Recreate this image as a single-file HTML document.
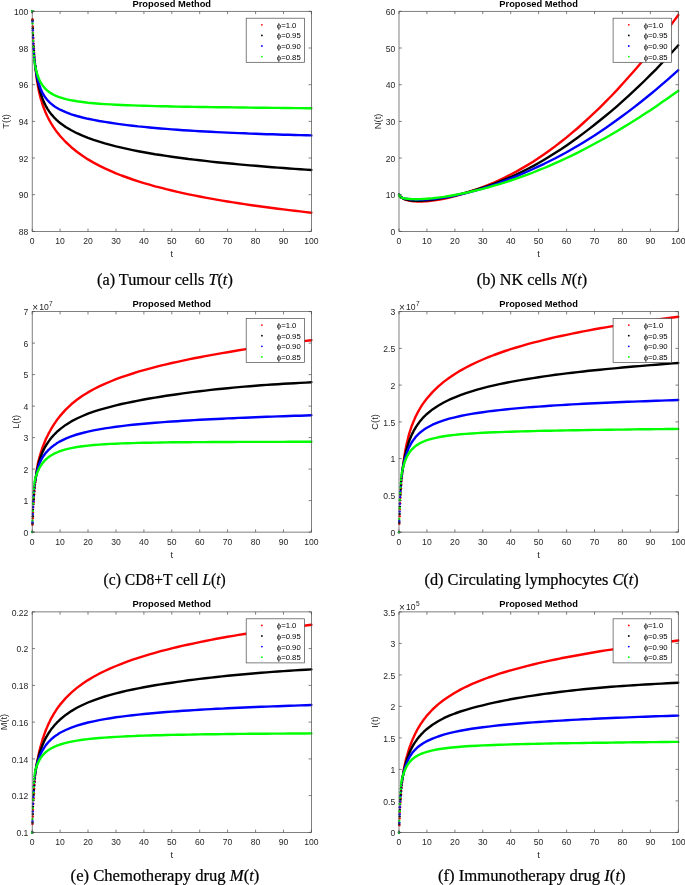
<!DOCTYPE html><html><head><meta charset="utf-8"><style>html,body{margin:0;padding:0;background:#fff;}svg{display:block;will-change:transform;font-family:"Liberation Sans",sans-serif;}</style></head><body><svg width="685" height="885" viewBox="0 0 685 885" font-family="Liberation Sans, sans-serif"><clipPath id="clipa"><rect x="30.7" y="9.8" width="282.2" height="223.1"/></clipPath><g clip-path="url(#clipa)"><g fill="#ff0000"><circle cx="32.2" cy="11.3" r="1.2"/><circle cx="32.5" cy="19.2" r="1.2"/><circle cx="32.8" cy="26.4" r="1.2"/><circle cx="33.0" cy="32.8" r="1.2"/><circle cx="33.3" cy="38.6" r="1.2"/><circle cx="33.6" cy="43.8" r="1.2"/><circle cx="33.9" cy="48.5" r="1.2"/><circle cx="34.2" cy="52.7" r="1.2"/><circle cx="34.4" cy="56.5" r="1.2"/><circle cx="34.7" cy="59.9" r="1.2"/><circle cx="35.0" cy="63.0" r="1.2"/><circle cx="35.3" cy="65.7" r="1.2"/></g><g fill="#000000"><circle cx="32.2" cy="11.3" r="1.2"/><circle cx="32.5" cy="20.4" r="1.2"/><circle cx="32.8" cy="28.3" r="1.2"/><circle cx="33.0" cy="35.1" r="1.2"/><circle cx="33.3" cy="41.1" r="1.2"/><circle cx="33.6" cy="46.3" r="1.2"/><circle cx="33.9" cy="50.8" r="1.2"/><circle cx="34.2" cy="54.7" r="1.2"/><circle cx="34.4" cy="58.2" r="1.2"/><circle cx="34.7" cy="61.1" r="1.2"/><circle cx="35.0" cy="63.7" r="1.2"/><circle cx="35.3" cy="66.0" r="1.2"/></g><g fill="#0000ff"><circle cx="32.2" cy="11.3" r="1.2"/><circle cx="32.5" cy="21.6" r="1.2"/><circle cx="32.8" cy="30.2" r="1.2"/><circle cx="33.0" cy="37.5" r="1.2"/><circle cx="33.3" cy="43.6" r="1.2"/><circle cx="33.6" cy="48.7" r="1.2"/><circle cx="33.9" cy="53.1" r="1.2"/><circle cx="34.2" cy="56.7" r="1.2"/><circle cx="34.4" cy="59.7" r="1.2"/><circle cx="34.7" cy="62.3" r="1.2"/><circle cx="35.0" cy="64.4" r="1.2"/><circle cx="35.3" cy="66.2" r="1.2"/></g><g fill="#00ff00"><circle cx="32.2" cy="11.3" r="1.2"/><circle cx="32.5" cy="23.4" r="1.2"/><circle cx="32.8" cy="33.0" r="1.2"/><circle cx="33.0" cy="40.7" r="1.2"/><circle cx="33.3" cy="46.9" r="1.2"/><circle cx="33.6" cy="51.9" r="1.2"/><circle cx="33.9" cy="55.8" r="1.2"/><circle cx="34.2" cy="59.0" r="1.2"/><circle cx="34.4" cy="61.5" r="1.2"/><circle cx="34.7" cy="63.5" r="1.2"/><circle cx="35.0" cy="65.2" r="1.2"/><circle cx="35.3" cy="66.5" r="1.2"/></g><path d="M35.4 67.0 L36.3 75.0 L37.1 81.3 L38.0 86.4 L38.8 90.7 L39.7 94.5 L40.5 97.8 L41.4 100.7 L42.2 103.5 L43.1 106.0 L43.9 108.3 L44.8 110.5 L45.6 112.6 L46.5 114.5 L47.3 116.3 L48.2 118.0 L49.0 119.7 L49.9 121.2 L50.7 122.7 L51.6 124.2 L52.5 125.6 L53.3 126.9 L54.2 128.1 L55.0 129.4 L55.9 130.6 L56.7 131.7 L57.6 132.8 L58.4 133.9 L59.3 134.9 L60.1 136.0 L65.7 142.0 L71.3 147.2 L76.9 151.7 L82.5 155.8 L88.0 159.4 L93.6 162.6 L99.2 165.6 L104.8 168.4 L110.4 170.9 L116.0 173.3 L121.5 175.5 L127.1 177.5 L132.7 179.5 L138.3 181.3 L143.9 183.1 L149.5 184.7 L155.0 186.3 L160.6 187.7 L166.2 189.2 L171.8 190.5 L177.4 191.8 L183.0 193.1 L188.6 194.3 L194.1 195.4 L199.7 196.5 L205.3 197.6 L210.9 198.6 L216.5 199.6 L222.1 200.6 L227.6 201.5 L233.2 202.4 L238.8 203.3 L244.4 204.1 L250.0 205.0 L255.6 205.8 L261.1 206.5 L266.7 207.3 L272.3 208.0 L277.9 208.7 L283.5 209.4 L289.1 210.1 L294.6 210.8 L300.2 211.4 L305.8 212.1 L311.4 212.7" fill="none" stroke="#ff0000" stroke-width="2.4" stroke-linejoin="round" stroke-linecap="round"/><path d="M35.4 67.0 L36.3 73.2 L37.1 78.4 L38.0 82.8 L38.8 86.6 L39.7 90.0 L40.5 92.9 L41.4 95.5 L42.2 97.9 L43.1 100.1 L43.9 102.1 L44.8 103.9 L45.6 105.6 L46.5 107.1 L47.3 108.6 L48.2 109.9 L49.0 111.2 L49.9 112.4 L50.7 113.5 L51.6 114.6 L52.5 115.6 L53.3 116.6 L54.2 117.5 L55.0 118.4 L55.9 119.2 L56.7 120.1 L57.6 120.8 L58.4 121.6 L59.3 122.3 L60.1 123.0 L65.7 127.0 L71.3 130.3 L76.9 133.2 L82.5 135.7 L88.0 137.9 L93.6 139.9 L99.2 141.7 L104.8 143.4 L110.4 144.9 L116.0 146.4 L121.5 147.7 L127.1 148.9 L132.7 150.1 L138.3 151.2 L143.9 152.2 L149.5 153.2 L155.0 154.2 L160.6 155.0 L166.2 155.9 L171.8 156.7 L177.4 157.5 L183.0 158.2 L188.6 159.0 L194.1 159.6 L199.7 160.3 L205.3 160.9 L210.9 161.6 L216.5 162.2 L222.1 162.7 L227.6 163.3 L233.2 163.8 L238.8 164.4 L244.4 164.9 L250.0 165.4 L255.6 165.8 L261.1 166.3 L266.7 166.8 L272.3 167.2 L277.9 167.6 L283.5 168.0 L289.1 168.5 L294.6 168.9 L300.2 169.2 L305.8 169.6 L311.4 170.0" fill="none" stroke="#000000" stroke-width="2.4" stroke-linejoin="round" stroke-linecap="round"/><path d="M35.4 67.0 L36.3 72.4 L37.1 76.8 L38.0 80.5 L38.8 83.5 L39.7 86.2 L40.5 88.5 L41.4 90.5 L42.2 92.3 L43.1 93.9 L43.9 95.3 L44.8 96.6 L45.6 97.8 L46.5 98.9 L47.3 100.0 L48.2 100.9 L49.0 101.8 L49.9 102.6 L50.7 103.4 L51.6 104.1 L52.5 104.8 L53.3 105.5 L54.2 106.1 L55.0 106.7 L55.9 107.3 L56.7 107.8 L57.6 108.3 L58.4 108.8 L59.3 109.3 L60.1 109.7 L65.7 112.2 L71.3 114.3 L76.9 116.0 L82.5 117.5 L88.0 118.8 L93.6 119.9 L99.2 121.0 L104.8 121.9 L110.4 122.8 L116.0 123.6 L121.5 124.4 L127.1 125.1 L132.7 125.7 L138.3 126.4 L143.9 126.9 L149.5 127.5 L155.0 128.0 L160.6 128.5 L166.2 128.9 L171.8 129.4 L177.4 129.8 L183.0 130.2 L188.6 130.5 L194.1 130.9 L199.7 131.2 L205.3 131.5 L210.9 131.8 L216.5 132.1 L222.1 132.4 L227.6 132.6 L233.2 132.9 L238.8 133.1 L244.4 133.3 L250.0 133.6 L255.6 133.8 L261.1 134.0 L266.7 134.2 L272.3 134.3 L277.9 134.5 L283.5 134.7 L289.1 134.8 L294.6 135.0 L300.2 135.1 L305.8 135.3 L311.4 135.4" fill="none" stroke="#0000ff" stroke-width="2.4" stroke-linejoin="round" stroke-linecap="round"/><path d="M35.4 67.0 L36.3 70.7 L37.1 73.7 L38.0 76.3 L38.8 78.5 L39.7 80.4 L40.5 82.1 L41.4 83.6 L42.2 84.9 L43.1 86.1 L43.9 87.1 L44.8 88.1 L45.6 89.0 L46.5 89.8 L47.3 90.6 L48.2 91.3 L49.0 91.9 L49.9 92.5 L50.7 93.1 L51.6 93.6 L52.5 94.1 L53.3 94.6 L54.2 95.0 L55.0 95.4 L55.9 95.8 L56.7 96.2 L57.6 96.5 L58.4 96.8 L59.3 97.1 L60.1 97.4 L65.7 99.1 L71.3 100.3 L76.9 101.3 L82.5 102.0 L88.0 102.7 L93.6 103.2 L99.2 103.7 L104.8 104.1 L110.4 104.4 L116.0 104.7 L121.5 105.0 L127.1 105.2 L132.7 105.4 L138.3 105.6 L143.9 105.8 L149.5 105.9 L155.0 106.1 L160.6 106.2 L166.2 106.3 L171.8 106.5 L177.4 106.6 L183.0 106.7 L188.6 106.8 L194.1 106.9 L199.7 107.0 L205.3 107.0 L210.9 107.1 L216.5 107.2 L222.1 107.3 L227.6 107.3 L233.2 107.4 L238.8 107.5 L244.4 107.5 L250.0 107.6 L255.6 107.7 L261.1 107.7 L266.7 107.8 L272.3 107.9 L277.9 107.9 L283.5 108.0 L289.1 108.0 L294.6 108.1 L300.2 108.1 L305.8 108.2 L311.4 108.2" fill="none" stroke="#00ff00" stroke-width="2.4" stroke-linejoin="round" stroke-linecap="round"/></g><rect x="32.2" y="11.3" width="279.2" height="220.1" fill="none" stroke="#4a4a4a" stroke-width="0.7"/><path d="M32.2 231.4v-2.8M32.2 11.3v2.8M60.1 231.4v-2.8M60.1 11.3v2.8M88.0 231.4v-2.8M88.0 11.3v2.8M116.0 231.4v-2.8M116.0 11.3v2.8M143.9 231.4v-2.8M143.9 11.3v2.8M171.8 231.4v-2.8M171.8 11.3v2.8M199.7 231.4v-2.8M199.7 11.3v2.8M227.6 231.4v-2.8M227.6 11.3v2.8M255.6 231.4v-2.8M255.6 11.3v2.8M283.5 231.4v-2.8M283.5 11.3v2.8M311.4 231.4v-2.8M311.4 11.3v2.8M32.2 231.4h2.8M311.4 231.4h-2.8M32.2 194.7h2.8M311.4 194.7h-2.8M32.2 158.0h2.8M311.4 158.0h-2.8M32.2 121.4h2.8M311.4 121.4h-2.8M32.2 84.7h2.8M311.4 84.7h-2.8M32.2 48.0h2.8M311.4 48.0h-2.8M32.2 11.3h2.8M311.4 11.3h-2.8" stroke="#4a4a4a" stroke-width="0.7" fill="none"/><g font-size="8.6" fill="#262626"><text x="32.2" y="244.3" text-anchor="middle">0</text><text x="60.1" y="244.3" text-anchor="middle">10</text><text x="88.0" y="244.3" text-anchor="middle">20</text><text x="116.0" y="244.3" text-anchor="middle">30</text><text x="143.9" y="244.3" text-anchor="middle">40</text><text x="171.8" y="244.3" text-anchor="middle">50</text><text x="199.7" y="244.3" text-anchor="middle">60</text><text x="227.6" y="244.3" text-anchor="middle">70</text><text x="255.6" y="244.3" text-anchor="middle">80</text><text x="283.5" y="244.3" text-anchor="middle">90</text><text x="311.4" y="244.3" text-anchor="middle">100</text><text x="28.4" y="235.1" text-anchor="end">88</text><text x="28.4" y="198.4" text-anchor="end">90</text><text x="28.4" y="161.7" text-anchor="end">92</text><text x="28.4" y="125.1" text-anchor="end">94</text><text x="28.4" y="88.4" text-anchor="end">96</text><text x="28.4" y="51.7" text-anchor="end">98</text><text x="28.4" y="15.0" text-anchor="end">100</text></g><text x="171.8" y="6.6" text-anchor="middle" font-weight="bold" font-size="9.3" fill="#000">Proposed Method</text><text x="171.8" y="256.8" text-anchor="middle" font-size="9.3" fill="#262626">t</text><text transform="translate(8.8 121.4) rotate(-90)" text-anchor="middle" font-size="9.3" fill="#262626">T(t)</text><rect x="246.2" y="18.2" width="58.3" height="44.1" fill="#fff" stroke="#4a4a4a" stroke-width="0.7"/><circle cx="261.9" cy="24.8" r="0.9" fill="#ff0000"/><text x="276.8" y="27.7" font-size="7.74" fill="#000">ϕ=1.0</text><circle cx="261.9" cy="35.4" r="0.9" fill="#000000"/><text x="276.8" y="38.3" font-size="7.74" fill="#000">ϕ=0.95</text><circle cx="261.9" cy="46.0" r="0.9" fill="#0000ff"/><text x="276.8" y="48.9" font-size="7.74" fill="#000">ϕ=0.90</text><circle cx="261.9" cy="56.6" r="0.9" fill="#00ff00"/><text x="276.8" y="59.5" font-size="7.74" fill="#000">ϕ=0.85</text><clipPath id="clipb"><rect x="397.5" y="9.8" width="282.3" height="223.1"/></clipPath><g clip-path="url(#clipb)"><g fill="#ff0000"><circle cx="399.0" cy="194.8" r="1.2"/><circle cx="399.3" cy="195.2" r="1.2"/><circle cx="399.6" cy="195.6" r="1.2"/><circle cx="399.8" cy="196.0" r="1.2"/><circle cx="400.1" cy="196.3" r="1.2"/><circle cx="400.4" cy="196.6" r="1.2"/><circle cx="400.7" cy="196.9" r="1.2"/><circle cx="401.0" cy="197.1" r="1.2"/><circle cx="401.2" cy="197.3" r="1.2"/><circle cx="401.5" cy="197.5" r="1.2"/><circle cx="401.8" cy="197.7" r="1.2"/></g><g fill="#000000"><circle cx="399.0" cy="194.8" r="1.2"/><circle cx="399.3" cy="195.3" r="1.2"/><circle cx="399.6" cy="195.7" r="1.2"/><circle cx="399.8" cy="196.1" r="1.2"/><circle cx="400.1" cy="196.4" r="1.2"/><circle cx="400.4" cy="196.7" r="1.2"/><circle cx="400.7" cy="197.0" r="1.2"/><circle cx="401.0" cy="197.2" r="1.2"/><circle cx="401.2" cy="197.4" r="1.2"/><circle cx="401.5" cy="197.6" r="1.2"/><circle cx="401.8" cy="197.7" r="1.2"/></g><g fill="#0000ff"><circle cx="399.0" cy="194.8" r="1.2"/><circle cx="399.3" cy="195.4" r="1.2"/><circle cx="399.6" cy="195.8" r="1.2"/><circle cx="399.8" cy="196.2" r="1.2"/><circle cx="400.1" cy="196.6" r="1.2"/><circle cx="400.4" cy="196.8" r="1.2"/><circle cx="400.7" cy="197.1" r="1.2"/><circle cx="401.0" cy="197.3" r="1.2"/><circle cx="401.2" cy="197.4" r="1.2"/><circle cx="401.5" cy="197.6" r="1.2"/><circle cx="401.8" cy="197.7" r="1.2"/></g><g fill="#00ff00"><circle cx="399.0" cy="194.8" r="1.2"/><circle cx="399.3" cy="195.4" r="1.2"/><circle cx="399.6" cy="196.0" r="1.2"/><circle cx="399.8" cy="196.4" r="1.2"/><circle cx="400.1" cy="196.7" r="1.2"/><circle cx="400.4" cy="197.0" r="1.2"/><circle cx="400.7" cy="197.2" r="1.2"/><circle cx="401.0" cy="197.4" r="1.2"/><circle cx="401.2" cy="197.5" r="1.2"/><circle cx="401.5" cy="197.6" r="1.2"/><circle cx="401.8" cy="197.7" r="1.2"/></g><path d="M401.8 197.7 L402.7 198.3 L403.5 198.7 L404.4 199.2 L405.3 199.5 L406.1 199.8 L407.0 200.1 L407.9 200.3 L408.7 200.5 L409.6 200.7 L410.5 200.8 L411.3 201.0 L412.2 201.1 L413.1 201.2 L413.9 201.3 L414.8 201.4 L415.7 201.4 L416.5 201.5 L417.4 201.5 L418.3 201.5 L419.1 201.5 L420.0 201.5 L420.9 201.5 L421.7 201.5 L422.6 201.5 L423.5 201.4 L424.3 201.4 L425.2 201.3 L426.1 201.3 L426.9 201.2 L432.5 200.6 L438.1 199.8 L443.7 198.7 L449.3 197.5 L454.9 196.1 L460.4 194.5 L466.0 192.8 L471.6 191.0 L477.2 189.1 L482.8 187.0 L488.4 184.8 L494.0 182.5 L499.5 180.0 L505.1 177.4 L510.7 174.5 L516.3 171.6 L521.9 168.4 L527.5 165.1 L533.1 161.7 L538.6 158.0 L544.2 154.2 L549.8 150.3 L555.4 146.1 L561.0 141.8 L566.6 137.4 L572.2 132.7 L577.8 128.0 L583.3 123.0 L588.9 117.9 L594.5 112.7 L600.1 107.3 L605.7 101.7 L611.3 96.0 L616.9 90.1 L622.4 84.0 L628.0 77.8 L633.6 71.5 L639.2 65.0 L644.8 58.3 L650.4 51.5 L656.0 44.5 L661.5 37.3 L667.1 30.0 L672.7 22.6 L678.3 15.0" fill="none" stroke="#ff0000" stroke-width="2.4" stroke-linejoin="round" stroke-linecap="round"/><path d="M401.8 197.7 L402.7 198.2 L403.5 198.6 L404.4 199.0 L405.3 199.3 L406.1 199.5 L407.0 199.7 L407.9 199.9 L408.7 200.1 L409.6 200.2 L410.5 200.4 L411.3 200.5 L412.2 200.5 L413.1 200.6 L413.9 200.7 L414.8 200.7 L415.7 200.7 L416.5 200.8 L417.4 200.8 L418.3 200.8 L419.1 200.8 L420.0 200.7 L420.9 200.7 L421.7 200.7 L422.6 200.6 L423.5 200.6 L424.3 200.5 L425.2 200.5 L426.1 200.4 L426.9 200.3 L432.5 199.7 L438.1 198.9 L443.7 197.9 L449.3 196.8 L454.9 195.5 L460.4 194.1 L466.0 192.7 L471.6 191.1 L477.2 189.4 L482.8 187.7 L488.4 185.8 L494.0 183.8 L499.5 181.7 L505.1 179.4 L510.7 177.0 L516.3 174.5 L521.9 171.8 L527.5 169.0 L533.1 166.1 L538.6 163.0 L544.2 159.7 L549.8 156.3 L555.4 152.8 L561.0 149.2 L566.6 145.4 L572.2 141.5 L577.8 137.5 L583.3 133.4 L588.9 129.1 L594.5 124.8 L600.1 120.3 L605.7 115.8 L611.3 111.1 L616.9 106.3 L622.4 101.4 L628.0 96.3 L633.6 91.2 L639.2 85.9 L644.8 80.5 L650.4 74.9 L656.0 69.3 L661.5 63.5 L667.1 57.5 L672.7 51.5 L678.3 45.3" fill="none" stroke="#000000" stroke-width="2.4" stroke-linejoin="round" stroke-linecap="round"/><path d="M401.8 197.7 L402.7 198.0 L403.5 198.2 L404.4 198.4 L405.3 198.6 L406.1 198.7 L407.0 198.9 L407.9 199.0 L408.7 199.1 L409.6 199.2 L410.5 199.3 L411.3 199.3 L412.2 199.4 L413.1 199.5 L413.9 199.5 L414.8 199.6 L415.7 199.6 L416.5 199.6 L417.4 199.6 L418.3 199.7 L419.1 199.7 L420.0 199.7 L420.9 199.6 L421.7 199.6 L422.6 199.6 L423.5 199.6 L424.3 199.6 L425.2 199.5 L426.1 199.5 L426.9 199.4 L432.5 199.0 L438.1 198.4 L443.7 197.6 L449.3 196.7 L454.9 195.6 L460.4 194.4 L466.0 193.1 L471.6 191.6 L477.2 190.1 L482.8 188.4 L488.4 186.6 L494.0 184.8 L499.5 182.8 L505.1 180.7 L510.7 178.5 L516.3 176.3 L521.9 174.0 L527.5 171.5 L533.1 169.0 L538.6 166.4 L544.2 163.8 L549.8 161.0 L555.4 158.2 L561.0 155.2 L566.6 152.2 L572.2 149.0 L577.8 145.8 L583.3 142.4 L588.9 138.9 L594.5 135.4 L600.1 131.7 L605.7 127.9 L611.3 124.1 L616.9 120.1 L622.4 116.0 L628.0 111.9 L633.6 107.6 L639.2 103.2 L644.8 98.8 L650.4 94.3 L656.0 89.6 L661.5 84.9 L667.1 80.1 L672.7 75.2 L678.3 70.2" fill="none" stroke="#0000ff" stroke-width="2.4" stroke-linejoin="round" stroke-linecap="round"/><path d="M401.8 197.7 L402.7 198.0 L403.5 198.2 L404.4 198.3 L405.3 198.5 L406.1 198.6 L407.0 198.7 L407.9 198.8 L408.7 198.9 L409.6 199.0 L410.5 199.0 L411.3 199.1 L412.2 199.1 L413.1 199.1 L413.9 199.1 L414.8 199.2 L415.7 199.2 L416.5 199.2 L417.4 199.2 L418.3 199.2 L419.1 199.1 L420.0 199.1 L420.9 199.1 L421.7 199.0 L422.6 199.0 L423.5 199.0 L424.3 198.9 L425.2 198.9 L426.1 198.8 L426.9 198.7 L432.5 198.3 L438.1 197.6 L443.7 196.9 L449.3 196.0 L454.9 195.0 L460.4 193.9 L466.0 192.8 L471.6 191.5 L477.2 190.2 L482.8 188.8 L488.4 187.3 L494.0 185.7 L499.5 184.1 L505.1 182.3 L510.7 180.5 L516.3 178.6 L521.9 176.7 L527.5 174.6 L533.1 172.5 L538.6 170.2 L544.2 168.0 L549.8 165.6 L555.4 163.1 L561.0 160.6 L566.6 158.0 L572.2 155.3 L577.8 152.6 L583.3 149.7 L588.9 146.8 L594.5 143.8 L600.1 140.8 L605.7 137.7 L611.3 134.5 L616.9 131.2 L622.4 127.9 L628.0 124.5 L633.6 121.0 L639.2 117.5 L644.8 113.8 L650.4 110.2 L656.0 106.4 L661.5 102.6 L667.1 98.7 L672.7 94.8 L678.3 90.8" fill="none" stroke="#00ff00" stroke-width="2.4" stroke-linejoin="round" stroke-linecap="round"/></g><rect x="399.0" y="11.3" width="279.3" height="220.1" fill="none" stroke="#4a4a4a" stroke-width="0.7"/><path d="M399.0 231.4v-2.8M399.0 11.3v2.8M426.9 231.4v-2.8M426.9 11.3v2.8M454.9 231.4v-2.8M454.9 11.3v2.8M482.8 231.4v-2.8M482.8 11.3v2.8M510.7 231.4v-2.8M510.7 11.3v2.8M538.6 231.4v-2.8M538.6 11.3v2.8M566.6 231.4v-2.8M566.6 11.3v2.8M594.5 231.4v-2.8M594.5 11.3v2.8M622.4 231.4v-2.8M622.4 11.3v2.8M650.4 231.4v-2.8M650.4 11.3v2.8M678.3 231.4v-2.8M678.3 11.3v2.8M399.0 231.4h2.8M678.3 231.4h-2.8M399.0 194.7h2.8M678.3 194.7h-2.8M399.0 158.0h2.8M678.3 158.0h-2.8M399.0 121.4h2.8M678.3 121.4h-2.8M399.0 84.7h2.8M678.3 84.7h-2.8M399.0 48.0h2.8M678.3 48.0h-2.8M399.0 11.3h2.8M678.3 11.3h-2.8" stroke="#4a4a4a" stroke-width="0.7" fill="none"/><g font-size="8.6" fill="#262626"><text x="399.0" y="244.3" text-anchor="middle">0</text><text x="426.9" y="244.3" text-anchor="middle">10</text><text x="454.9" y="244.3" text-anchor="middle">20</text><text x="482.8" y="244.3" text-anchor="middle">30</text><text x="510.7" y="244.3" text-anchor="middle">40</text><text x="538.6" y="244.3" text-anchor="middle">50</text><text x="566.6" y="244.3" text-anchor="middle">60</text><text x="594.5" y="244.3" text-anchor="middle">70</text><text x="622.4" y="244.3" text-anchor="middle">80</text><text x="650.4" y="244.3" text-anchor="middle">90</text><text x="678.3" y="244.3" text-anchor="middle">100</text><text x="395.2" y="235.1" text-anchor="end">0</text><text x="395.2" y="198.4" text-anchor="end">10</text><text x="395.2" y="161.7" text-anchor="end">20</text><text x="395.2" y="125.1" text-anchor="end">30</text><text x="395.2" y="88.4" text-anchor="end">40</text><text x="395.2" y="51.7" text-anchor="end">50</text><text x="395.2" y="15.0" text-anchor="end">60</text></g><text x="538.6" y="6.6" text-anchor="middle" font-weight="bold" font-size="9.3" fill="#000">Proposed Method</text><text x="538.6" y="256.8" text-anchor="middle" font-size="9.3" fill="#262626">t</text><text transform="translate(381.0 121.4) rotate(-90)" text-anchor="middle" font-size="9.3" fill="#262626">N(t)</text><rect x="613.1" y="18.2" width="58.3" height="44.1" fill="#fff" stroke="#4a4a4a" stroke-width="0.7"/><circle cx="628.8" cy="24.8" r="0.9" fill="#ff0000"/><text x="643.7" y="27.7" font-size="7.74" fill="#000">ϕ=1.0</text><circle cx="628.8" cy="35.4" r="0.9" fill="#000000"/><text x="643.7" y="38.3" font-size="7.74" fill="#000">ϕ=0.95</text><circle cx="628.8" cy="46.0" r="0.9" fill="#0000ff"/><text x="643.7" y="48.9" font-size="7.74" fill="#000">ϕ=0.90</text><circle cx="628.8" cy="56.6" r="0.9" fill="#00ff00"/><text x="643.7" y="59.5" font-size="7.74" fill="#000">ϕ=0.85</text><clipPath id="clipc"><rect x="30.7" y="310.1" width="282.2" height="223.5"/></clipPath><g clip-path="url(#clipc)"><g fill="#ff0000"><circle cx="32.2" cy="532.1" r="1.2"/><circle cx="32.5" cy="524.8" r="1.2"/><circle cx="32.8" cy="518.3" r="1.2"/><circle cx="33.0" cy="512.4" r="1.2"/><circle cx="33.3" cy="507.1" r="1.2"/><circle cx="33.6" cy="502.3" r="1.2"/><circle cx="33.9" cy="498.0" r="1.2"/><circle cx="34.2" cy="494.2" r="1.2"/><circle cx="34.4" cy="490.7" r="1.2"/><circle cx="34.7" cy="487.5" r="1.2"/><circle cx="35.0" cy="484.7" r="1.2"/><circle cx="35.3" cy="482.2" r="1.2"/><circle cx="35.6" cy="479.9" r="1.2"/><circle cx="35.8" cy="477.8" r="1.2"/></g><g fill="#000000"><circle cx="32.2" cy="532.1" r="1.2"/><circle cx="32.5" cy="523.6" r="1.2"/><circle cx="32.8" cy="516.2" r="1.2"/><circle cx="33.0" cy="509.8" r="1.2"/><circle cx="33.3" cy="504.2" r="1.2"/><circle cx="33.6" cy="499.3" r="1.2"/><circle cx="33.9" cy="495.1" r="1.2"/><circle cx="34.2" cy="491.4" r="1.2"/><circle cx="34.4" cy="488.2" r="1.2"/><circle cx="34.7" cy="485.4" r="1.2"/><circle cx="35.0" cy="482.9" r="1.2"/><circle cx="35.3" cy="480.8" r="1.2"/><circle cx="35.6" cy="479.0" r="1.2"/><circle cx="35.8" cy="477.4" r="1.2"/></g><g fill="#0000ff"><circle cx="32.2" cy="532.1" r="1.2"/><circle cx="32.5" cy="522.3" r="1.2"/><circle cx="32.8" cy="514.0" r="1.2"/><circle cx="33.0" cy="507.1" r="1.2"/><circle cx="33.3" cy="501.2" r="1.2"/><circle cx="33.6" cy="496.3" r="1.2"/><circle cx="33.9" cy="492.2" r="1.2"/><circle cx="34.2" cy="488.8" r="1.2"/><circle cx="34.4" cy="485.9" r="1.2"/><circle cx="34.7" cy="483.4" r="1.2"/><circle cx="35.0" cy="481.4" r="1.2"/><circle cx="35.3" cy="479.7" r="1.2"/><circle cx="35.6" cy="478.2" r="1.2"/><circle cx="35.8" cy="477.0" r="1.2"/></g><g fill="#00ff00"><circle cx="32.2" cy="532.1" r="1.2"/><circle cx="32.5" cy="520.4" r="1.2"/><circle cx="32.8" cy="511.0" r="1.2"/><circle cx="33.0" cy="503.5" r="1.2"/><circle cx="33.3" cy="497.5" r="1.2"/><circle cx="33.6" cy="492.6" r="1.2"/><circle cx="33.9" cy="488.8" r="1.2"/><circle cx="34.2" cy="485.7" r="1.2"/><circle cx="34.4" cy="483.3" r="1.2"/><circle cx="34.7" cy="481.3" r="1.2"/><circle cx="35.0" cy="479.7" r="1.2"/><circle cx="35.3" cy="478.5" r="1.2"/><circle cx="35.6" cy="477.5" r="1.2"/><circle cx="35.8" cy="476.6" r="1.2"/></g><path d="M36.1 476.0 L36.9 468.9 L37.8 464.1 L38.6 460.6 L39.4 457.6 L40.2 454.7 L41.1 452.0 L41.9 449.4 L42.7 447.0 L43.6 444.8 L44.4 442.7 L45.2 440.7 L46.0 438.8 L46.9 437.1 L47.7 435.4 L48.5 433.7 L49.4 432.2 L50.2 430.7 L51.0 429.2 L51.8 427.8 L52.7 426.4 L53.5 425.1 L54.3 423.8 L55.2 422.6 L56.0 421.4 L56.8 420.2 L57.6 419.1 L58.5 418.0 L59.3 416.9 L60.1 415.9 L65.7 409.6 L71.3 404.3 L76.9 399.8 L82.5 395.8 L88.0 392.4 L93.6 389.2 L99.2 386.4 L104.8 383.8 L110.4 381.5 L116.0 379.2 L121.5 377.2 L127.1 375.3 L132.7 373.5 L138.3 371.7 L143.9 370.1 L149.5 368.6 L155.0 367.1 L160.6 365.7 L166.2 364.3 L171.8 363.0 L177.4 361.8 L183.0 360.6 L188.6 359.4 L194.1 358.3 L199.7 357.2 L205.3 356.1 L210.9 355.1 L216.5 354.1 L222.1 353.1 L227.6 352.2 L233.2 351.2 L238.8 350.3 L244.4 349.4 L250.0 348.6 L255.6 347.7 L261.1 346.9 L266.7 346.1 L272.3 345.3 L277.9 344.5 L283.5 343.8 L289.1 343.0 L294.6 342.3 L300.2 341.6 L305.8 340.9 L311.4 340.2" fill="none" stroke="#ff0000" stroke-width="2.4" stroke-linejoin="round" stroke-linecap="round"/><path d="M36.1 476.0 L36.9 471.0 L37.8 466.9 L38.6 463.5 L39.4 460.6 L40.2 458.0 L41.1 455.7 L41.9 453.6 L42.7 451.7 L43.6 449.9 L44.4 448.3 L45.2 446.8 L46.0 445.4 L46.9 444.0 L47.7 442.8 L48.5 441.6 L49.4 440.4 L50.2 439.3 L51.0 438.2 L51.8 437.2 L52.7 436.3 L53.5 435.3 L54.3 434.5 L55.2 433.6 L56.0 432.8 L56.8 432.0 L57.6 431.2 L58.5 430.5 L59.3 429.8 L60.1 429.1 L65.7 424.9 L71.3 421.4 L76.9 418.5 L82.5 416.0 L88.0 413.7 L93.6 411.7 L99.2 409.9 L104.8 408.3 L110.4 406.8 L116.0 405.4 L121.5 404.0 L127.1 402.8 L132.7 401.7 L138.3 400.6 L143.9 399.5 L149.5 398.5 L155.0 397.6 L160.6 396.7 L166.2 395.8 L171.8 395.0 L177.4 394.2 L183.0 393.4 L188.6 392.6 L194.1 391.9 L199.7 391.2 L205.3 390.6 L210.9 389.9 L216.5 389.3 L222.1 388.7 L227.6 388.2 L233.2 387.6 L238.8 387.1 L244.4 386.6 L250.0 386.2 L255.6 385.7 L261.1 385.3 L266.7 384.9 L272.3 384.5 L277.9 384.2 L283.5 383.8 L289.1 383.5 L294.6 383.2 L300.2 382.9 L305.8 382.6 L311.4 382.3" fill="none" stroke="#000000" stroke-width="2.4" stroke-linejoin="round" stroke-linecap="round"/><path d="M36.1 476.0 L36.9 471.9 L37.8 468.7 L38.6 466.0 L39.4 463.7 L40.2 461.7 L41.1 460.0 L41.9 458.5 L42.7 457.1 L43.6 455.8 L44.4 454.7 L45.2 453.6 L46.0 452.6 L46.9 451.6 L47.7 450.8 L48.5 449.9 L49.4 449.1 L50.2 448.3 L51.0 447.6 L51.8 446.9 L52.7 446.3 L53.5 445.6 L54.3 445.0 L55.2 444.4 L56.0 443.9 L56.8 443.3 L57.6 442.8 L58.5 442.3 L59.3 441.8 L60.1 441.4 L65.7 438.6 L71.3 436.4 L76.9 434.5 L82.5 433.0 L88.0 431.6 L93.6 430.4 L99.2 429.4 L104.8 428.4 L110.4 427.6 L116.0 426.8 L121.5 426.1 L127.1 425.4 L132.7 424.8 L138.3 424.3 L143.9 423.8 L149.5 423.3 L155.0 422.8 L160.6 422.4 L166.2 421.9 L171.8 421.5 L177.4 421.2 L183.0 420.8 L188.6 420.5 L194.1 420.1 L199.7 419.8 L205.3 419.5 L210.9 419.2 L216.5 419.0 L222.1 418.7 L227.6 418.4 L233.2 418.2 L238.8 417.9 L244.4 417.7 L250.0 417.5 L255.6 417.2 L261.1 417.0 L266.7 416.8 L272.3 416.6 L277.9 416.4 L283.5 416.2 L289.1 416.0 L294.6 415.8 L300.2 415.7 L305.8 415.5 L311.4 415.3" fill="none" stroke="#0000ff" stroke-width="2.4" stroke-linejoin="round" stroke-linecap="round"/><path d="M36.1 476.0 L36.9 473.6 L37.8 471.5 L38.6 469.6 L39.4 468.0 L40.2 466.5 L41.1 465.2 L41.9 464.0 L42.7 462.9 L43.6 461.9 L44.4 461.0 L45.2 460.1 L46.0 459.3 L46.9 458.6 L47.7 457.9 L48.5 457.2 L49.4 456.6 L50.2 456.0 L51.0 455.5 L51.8 455.0 L52.7 454.5 L53.5 454.1 L54.3 453.6 L55.2 453.2 L56.0 452.8 L56.8 452.5 L57.6 452.1 L58.5 451.8 L59.3 451.4 L60.1 451.1 L65.7 449.4 L71.3 448.1 L76.9 447.0 L82.5 446.2 L88.0 445.6 L93.6 445.0 L99.2 444.6 L104.8 444.2 L110.4 443.9 L116.0 443.7 L121.5 443.4 L127.1 443.2 L132.7 443.1 L138.3 442.9 L143.9 442.8 L149.5 442.7 L155.0 442.6 L160.6 442.5 L166.2 442.4 L171.8 442.3 L177.4 442.3 L183.0 442.2 L188.6 442.2 L194.1 442.1 L199.7 442.1 L205.3 442.1 L210.9 442.0 L216.5 442.0 L222.1 442.0 L227.6 442.0 L233.2 442.0 L238.8 441.9 L244.4 441.9 L250.0 441.9 L255.6 441.9 L261.1 441.9 L266.7 441.9 L272.3 441.9 L277.9 441.9 L283.5 441.9 L289.1 441.8 L294.6 441.8 L300.2 441.8 L305.8 441.8 L311.4 441.8" fill="none" stroke="#00ff00" stroke-width="2.4" stroke-linejoin="round" stroke-linecap="round"/></g><rect x="32.2" y="311.6" width="279.2" height="220.5" fill="none" stroke="#4a4a4a" stroke-width="0.7"/><path d="M32.2 532.1v-2.8M32.2 311.6v2.8M60.1 532.1v-2.8M60.1 311.6v2.8M88.0 532.1v-2.8M88.0 311.6v2.8M116.0 532.1v-2.8M116.0 311.6v2.8M143.9 532.1v-2.8M143.9 311.6v2.8M171.8 532.1v-2.8M171.8 311.6v2.8M199.7 532.1v-2.8M199.7 311.6v2.8M227.6 532.1v-2.8M227.6 311.6v2.8M255.6 532.1v-2.8M255.6 311.6v2.8M283.5 532.1v-2.8M283.5 311.6v2.8M311.4 532.1v-2.8M311.4 311.6v2.8M32.2 532.1h2.8M311.4 532.1h-2.8M32.2 500.6h2.8M311.4 500.6h-2.8M32.2 469.1h2.8M311.4 469.1h-2.8M32.2 437.6h2.8M311.4 437.6h-2.8M32.2 406.1h2.8M311.4 406.1h-2.8M32.2 374.6h2.8M311.4 374.6h-2.8M32.2 343.1h2.8M311.4 343.1h-2.8M32.2 311.6h2.8M311.4 311.6h-2.8" stroke="#4a4a4a" stroke-width="0.7" fill="none"/><g font-size="8.6" fill="#262626"><text x="32.2" y="545.0" text-anchor="middle">0</text><text x="60.1" y="545.0" text-anchor="middle">10</text><text x="88.0" y="545.0" text-anchor="middle">20</text><text x="116.0" y="545.0" text-anchor="middle">30</text><text x="143.9" y="545.0" text-anchor="middle">40</text><text x="171.8" y="545.0" text-anchor="middle">50</text><text x="199.7" y="545.0" text-anchor="middle">60</text><text x="227.6" y="545.0" text-anchor="middle">70</text><text x="255.6" y="545.0" text-anchor="middle">80</text><text x="283.5" y="545.0" text-anchor="middle">90</text><text x="311.4" y="545.0" text-anchor="middle">100</text><text x="28.4" y="535.8" text-anchor="end">0</text><text x="28.4" y="504.3" text-anchor="end">1</text><text x="28.4" y="472.8" text-anchor="end">2</text><text x="28.4" y="441.3" text-anchor="end">3</text><text x="28.4" y="409.8" text-anchor="end">4</text><text x="28.4" y="378.3" text-anchor="end">5</text><text x="28.4" y="346.8" text-anchor="end">6</text><text x="28.4" y="315.3" text-anchor="end">7</text></g><g fill="#262626"><text x="32.2" y="310.6" font-size="10">×</text><text x="39.3" y="309.7" font-size="8.6">10</text><text x="49.1" y="305.5" font-size="6.6">7</text></g><text x="171.8" y="306.9" text-anchor="middle" font-weight="bold" font-size="9.3" fill="#000">Proposed Method</text><text x="171.8" y="557.5" text-anchor="middle" font-size="9.3" fill="#262626">t</text><text transform="translate(18.7 421.9) rotate(-90)" text-anchor="middle" font-size="9.3" fill="#262626">L(t)</text><rect x="246.2" y="318.5" width="58.3" height="44.1" fill="#fff" stroke="#4a4a4a" stroke-width="0.7"/><circle cx="261.9" cy="325.1" r="0.9" fill="#ff0000"/><text x="276.8" y="328.0" font-size="7.74" fill="#000">ϕ=1.0</text><circle cx="261.9" cy="335.7" r="0.9" fill="#000000"/><text x="276.8" y="338.6" font-size="7.74" fill="#000">ϕ=0.95</text><circle cx="261.9" cy="346.3" r="0.9" fill="#0000ff"/><text x="276.8" y="349.2" font-size="7.74" fill="#000">ϕ=0.90</text><circle cx="261.9" cy="356.9" r="0.9" fill="#00ff00"/><text x="276.8" y="359.8" font-size="7.74" fill="#000">ϕ=0.85</text><clipPath id="clipd"><rect x="397.5" y="310.1" width="282.3" height="223.5"/></clipPath><g clip-path="url(#clipd)"><g fill="#ff0000"><circle cx="399.0" cy="532.2" r="1.2"/><circle cx="399.3" cy="523.8" r="1.2"/><circle cx="399.6" cy="516.2" r="1.2"/><circle cx="399.8" cy="509.4" r="1.2"/><circle cx="400.1" cy="503.3" r="1.2"/><circle cx="400.4" cy="497.8" r="1.2"/><circle cx="400.7" cy="492.8" r="1.2"/><circle cx="401.0" cy="488.3" r="1.2"/><circle cx="401.2" cy="484.3" r="1.2"/><circle cx="401.5" cy="480.7" r="1.2"/><circle cx="401.8" cy="477.4" r="1.2"/><circle cx="402.1" cy="474.5" r="1.2"/><circle cx="402.4" cy="471.9" r="1.2"/><circle cx="402.6" cy="469.5" r="1.2"/></g><g fill="#000000"><circle cx="399.0" cy="532.2" r="1.2"/><circle cx="399.3" cy="522.5" r="1.2"/><circle cx="399.6" cy="514.0" r="1.2"/><circle cx="399.8" cy="506.6" r="1.2"/><circle cx="400.1" cy="500.2" r="1.2"/><circle cx="400.4" cy="494.6" r="1.2"/><circle cx="400.7" cy="489.7" r="1.2"/><circle cx="401.0" cy="485.5" r="1.2"/><circle cx="401.2" cy="481.8" r="1.2"/><circle cx="401.5" cy="478.6" r="1.2"/><circle cx="401.8" cy="475.9" r="1.2"/><circle cx="402.1" cy="473.4" r="1.2"/><circle cx="402.4" cy="471.3" r="1.2"/><circle cx="402.6" cy="469.5" r="1.2"/></g><g fill="#0000ff"><circle cx="399.0" cy="532.2" r="1.2"/><circle cx="399.3" cy="521.0" r="1.2"/><circle cx="399.6" cy="511.6" r="1.2"/><circle cx="399.8" cy="503.7" r="1.2"/><circle cx="400.1" cy="497.1" r="1.2"/><circle cx="400.4" cy="491.5" r="1.2"/><circle cx="400.7" cy="486.8" r="1.2"/><circle cx="401.0" cy="482.9" r="1.2"/><circle cx="401.2" cy="479.6" r="1.2"/><circle cx="401.5" cy="476.8" r="1.2"/><circle cx="401.8" cy="474.5" r="1.2"/><circle cx="402.1" cy="472.5" r="1.2"/><circle cx="402.4" cy="470.9" r="1.2"/><circle cx="402.6" cy="469.5" r="1.2"/></g><g fill="#00ff00"><circle cx="399.0" cy="532.2" r="1.2"/><circle cx="399.3" cy="518.9" r="1.2"/><circle cx="399.6" cy="508.3" r="1.2"/><circle cx="399.8" cy="499.8" r="1.2"/><circle cx="400.1" cy="493.0" r="1.2"/><circle cx="400.4" cy="487.6" r="1.2"/><circle cx="400.7" cy="483.2" r="1.2"/><circle cx="401.0" cy="479.8" r="1.2"/><circle cx="401.2" cy="477.0" r="1.2"/><circle cx="401.5" cy="474.8" r="1.2"/><circle cx="401.8" cy="473.0" r="1.2"/><circle cx="402.1" cy="471.6" r="1.2"/><circle cx="402.4" cy="470.4" r="1.2"/><circle cx="402.6" cy="469.5" r="1.2"/></g><path d="M402.6 469.5 L403.5 462.7 L404.3 456.8 L405.1 451.7 L406.0 447.3 L406.8 443.3 L407.7 439.7 L408.5 436.4 L409.3 433.4 L410.2 430.6 L411.0 428.1 L411.8 425.7 L412.7 423.5 L413.5 421.4 L414.4 419.4 L415.2 417.5 L416.0 415.8 L416.9 414.1 L417.7 412.5 L418.6 410.9 L419.4 409.5 L420.2 408.1 L421.1 406.7 L421.9 405.4 L422.7 404.2 L423.6 402.9 L424.4 401.8 L425.3 400.6 L426.1 399.5 L426.9 398.5 L432.5 392.1 L438.1 386.7 L443.7 381.9 L449.3 377.7 L454.9 374.0 L460.4 370.6 L466.0 367.5 L471.6 364.6 L477.2 362.0 L482.8 359.5 L488.4 357.2 L494.0 355.0 L499.5 353.0 L505.1 351.0 L510.7 349.2 L516.3 347.5 L521.9 345.8 L527.5 344.2 L533.1 342.7 L538.6 341.3 L544.2 339.9 L549.8 338.5 L555.4 337.2 L561.0 336.0 L566.6 334.8 L572.2 333.6 L577.8 332.5 L583.3 331.4 L588.9 330.4 L594.5 329.3 L600.1 328.3 L605.7 327.4 L611.3 326.4 L616.9 325.5 L622.4 324.6 L628.0 323.7 L633.6 322.9 L639.2 322.1 L644.8 321.3 L650.4 320.5 L656.0 319.7 L661.5 318.9 L667.1 318.2 L672.7 317.5 L678.3 316.8" fill="none" stroke="#ff0000" stroke-width="2.4" stroke-linejoin="round" stroke-linecap="round"/><path d="M402.6 469.5 L403.5 464.0 L404.3 459.4 L405.1 455.3 L406.0 451.8 L406.8 448.6 L407.7 445.7 L408.5 443.1 L409.3 440.7 L410.2 438.5 L411.0 436.5 L411.8 434.6 L412.7 432.9 L413.5 431.2 L414.4 429.7 L415.2 428.3 L416.0 426.9 L416.9 425.6 L417.7 424.4 L418.6 423.2 L419.4 422.1 L420.2 421.0 L421.1 420.0 L421.9 419.1 L422.7 418.1 L423.6 417.2 L424.4 416.4 L425.3 415.5 L426.1 414.7 L426.9 414.0 L432.5 409.4 L438.1 405.7 L443.7 402.5 L449.3 399.7 L454.9 397.3 L460.4 395.1 L466.0 393.1 L471.6 391.3 L477.2 389.7 L482.8 388.1 L488.4 386.7 L494.0 385.4 L499.5 384.2 L505.1 383.0 L510.7 381.9 L516.3 380.9 L521.9 379.9 L527.5 379.0 L533.1 378.1 L538.6 377.2 L544.2 376.4 L549.8 375.6 L555.4 374.8 L561.0 374.1 L566.6 373.4 L572.2 372.7 L577.8 372.1 L583.3 371.5 L588.9 370.8 L594.5 370.3 L600.1 369.7 L605.7 369.1 L611.3 368.6 L616.9 368.1 L622.4 367.5 L628.0 367.0 L633.6 366.5 L639.2 366.1 L644.8 365.6 L650.4 365.1 L656.0 364.7 L661.5 364.3 L667.1 363.8 L672.7 363.4 L678.3 363.0" fill="none" stroke="#000000" stroke-width="2.4" stroke-linejoin="round" stroke-linecap="round"/><path d="M402.6 469.5 L403.5 465.1 L404.3 461.4 L405.1 458.2 L406.0 455.3 L406.8 452.9 L407.7 450.6 L408.5 448.6 L409.3 446.8 L410.2 445.2 L411.0 443.7 L411.8 442.3 L412.7 441.0 L413.5 439.8 L414.4 438.7 L415.2 437.6 L416.0 436.6 L416.9 435.7 L417.7 434.8 L418.6 434.0 L419.4 433.2 L420.2 432.5 L421.1 431.8 L421.9 431.1 L422.7 430.5 L423.6 429.9 L424.4 429.3 L425.3 428.7 L426.1 428.2 L426.9 427.7 L432.5 424.7 L438.1 422.3 L443.7 420.4 L449.3 418.7 L454.9 417.3 L460.4 416.0 L466.0 414.9 L471.6 413.9 L477.2 413.0 L482.8 412.2 L488.4 411.4 L494.0 410.7 L499.5 410.1 L505.1 409.5 L510.7 408.9 L516.3 408.4 L521.9 407.9 L527.5 407.4 L533.1 407.0 L538.6 406.6 L544.2 406.2 L549.8 405.8 L555.4 405.4 L561.0 405.1 L566.6 404.7 L572.2 404.4 L577.8 404.1 L583.3 403.8 L588.9 403.5 L594.5 403.3 L600.1 403.0 L605.7 402.7 L611.3 402.5 L616.9 402.3 L622.4 402.0 L628.0 401.8 L633.6 401.6 L639.2 401.4 L644.8 401.2 L650.4 401.0 L656.0 400.8 L661.5 400.6 L667.1 400.4 L672.7 400.2 L678.3 400.0" fill="none" stroke="#0000ff" stroke-width="2.4" stroke-linejoin="round" stroke-linecap="round"/><path d="M402.6 469.5 L403.5 466.1 L404.3 463.3 L405.1 460.9 L406.0 458.8 L406.8 456.9 L407.7 455.3 L408.5 453.9 L409.3 452.6 L410.2 451.5 L411.0 450.4 L411.8 449.5 L412.7 448.6 L413.5 447.8 L414.4 447.0 L415.2 446.4 L416.0 445.7 L416.9 445.1 L417.7 444.6 L418.6 444.1 L419.4 443.6 L420.2 443.1 L421.1 442.7 L421.9 442.3 L422.7 441.9 L423.6 441.5 L424.4 441.2 L425.3 440.8 L426.1 440.5 L426.9 440.2 L432.5 438.6 L438.1 437.3 L443.7 436.3 L449.3 435.5 L454.9 434.9 L460.4 434.3 L466.0 433.9 L471.6 433.5 L477.2 433.1 L482.8 432.8 L488.4 432.5 L494.0 432.3 L499.5 432.1 L505.1 431.9 L510.7 431.7 L516.3 431.5 L521.9 431.4 L527.5 431.2 L533.1 431.1 L538.6 430.9 L544.2 430.8 L549.8 430.7 L555.4 430.6 L561.0 430.5 L566.6 430.4 L572.2 430.3 L577.8 430.2 L583.3 430.1 L588.9 430.0 L594.5 429.9 L600.1 429.9 L605.7 429.8 L611.3 429.7 L616.9 429.6 L622.4 429.6 L628.0 429.5 L633.6 429.4 L639.2 429.3 L644.8 429.3 L650.4 429.2 L656.0 429.1 L661.5 429.1 L667.1 429.0 L672.7 429.0 L678.3 428.9" fill="none" stroke="#00ff00" stroke-width="2.4" stroke-linejoin="round" stroke-linecap="round"/></g><rect x="399.0" y="311.6" width="279.3" height="220.5" fill="none" stroke="#4a4a4a" stroke-width="0.7"/><path d="M399.0 532.1v-2.8M399.0 311.6v2.8M426.9 532.1v-2.8M426.9 311.6v2.8M454.9 532.1v-2.8M454.9 311.6v2.8M482.8 532.1v-2.8M482.8 311.6v2.8M510.7 532.1v-2.8M510.7 311.6v2.8M538.6 532.1v-2.8M538.6 311.6v2.8M566.6 532.1v-2.8M566.6 311.6v2.8M594.5 532.1v-2.8M594.5 311.6v2.8M622.4 532.1v-2.8M622.4 311.6v2.8M650.4 532.1v-2.8M650.4 311.6v2.8M678.3 532.1v-2.8M678.3 311.6v2.8M399.0 532.1h2.8M678.3 532.1h-2.8M399.0 495.4h2.8M678.3 495.4h-2.8M399.0 458.6h2.8M678.3 458.6h-2.8M399.0 421.9h2.8M678.3 421.9h-2.8M399.0 385.1h2.8M678.3 385.1h-2.8M399.0 348.4h2.8M678.3 348.4h-2.8M399.0 311.6h2.8M678.3 311.6h-2.8" stroke="#4a4a4a" stroke-width="0.7" fill="none"/><g font-size="8.6" fill="#262626"><text x="399.0" y="545.0" text-anchor="middle">0</text><text x="426.9" y="545.0" text-anchor="middle">10</text><text x="454.9" y="545.0" text-anchor="middle">20</text><text x="482.8" y="545.0" text-anchor="middle">30</text><text x="510.7" y="545.0" text-anchor="middle">40</text><text x="538.6" y="545.0" text-anchor="middle">50</text><text x="566.6" y="545.0" text-anchor="middle">60</text><text x="594.5" y="545.0" text-anchor="middle">70</text><text x="622.4" y="545.0" text-anchor="middle">80</text><text x="650.4" y="545.0" text-anchor="middle">90</text><text x="678.3" y="545.0" text-anchor="middle">100</text><text x="395.2" y="535.8" text-anchor="end">0</text><text x="395.2" y="499.1" text-anchor="end">0.5</text><text x="395.2" y="462.3" text-anchor="end">1</text><text x="395.2" y="425.6" text-anchor="end">1.5</text><text x="395.2" y="388.8" text-anchor="end">2</text><text x="395.2" y="352.1" text-anchor="end">2.5</text><text x="395.2" y="315.3" text-anchor="end">3</text></g><g fill="#262626"><text x="399.0" y="310.6" font-size="10">×</text><text x="406.1" y="309.7" font-size="8.6">10</text><text x="415.9" y="305.5" font-size="6.6">7</text></g><text x="538.6" y="306.9" text-anchor="middle" font-weight="bold" font-size="9.3" fill="#000">Proposed Method</text><text x="538.6" y="557.5" text-anchor="middle" font-size="9.3" fill="#262626">t</text><text transform="translate(378.4 421.9) rotate(-90)" text-anchor="middle" font-size="9.3" fill="#262626">C(t)</text><rect x="613.1" y="318.5" width="58.3" height="44.1" fill="#fff" stroke="#4a4a4a" stroke-width="0.7"/><circle cx="628.8" cy="325.1" r="0.9" fill="#ff0000"/><text x="643.7" y="328.0" font-size="7.74" fill="#000">ϕ=1.0</text><circle cx="628.8" cy="335.7" r="0.9" fill="#000000"/><text x="643.7" y="338.6" font-size="7.74" fill="#000">ϕ=0.95</text><circle cx="628.8" cy="346.3" r="0.9" fill="#0000ff"/><text x="643.7" y="349.2" font-size="7.74" fill="#000">ϕ=0.90</text><circle cx="628.8" cy="356.9" r="0.9" fill="#00ff00"/><text x="643.7" y="359.8" font-size="7.74" fill="#000">ϕ=0.85</text><clipPath id="clipe"><rect x="30.7" y="610.4" width="282.2" height="223.5"/></clipPath><g clip-path="url(#clipe)"><g fill="#ff0000"><circle cx="32.2" cy="832.4" r="1.2"/><circle cx="32.5" cy="824.0" r="1.2"/><circle cx="32.8" cy="816.5" r="1.2"/><circle cx="33.0" cy="809.8" r="1.2"/><circle cx="33.3" cy="803.7" r="1.2"/><circle cx="33.6" cy="798.2" r="1.2"/><circle cx="33.9" cy="793.3" r="1.2"/><circle cx="34.2" cy="788.8" r="1.2"/><circle cx="34.4" cy="784.8" r="1.2"/><circle cx="34.7" cy="781.2" r="1.2"/><circle cx="35.0" cy="778.0" r="1.2"/><circle cx="35.3" cy="775.1" r="1.2"/><circle cx="35.6" cy="772.5" r="1.2"/><circle cx="35.8" cy="770.1" r="1.2"/></g><g fill="#000000"><circle cx="32.2" cy="832.4" r="1.2"/><circle cx="32.5" cy="822.6" r="1.2"/><circle cx="32.8" cy="814.1" r="1.2"/><circle cx="33.0" cy="806.8" r="1.2"/><circle cx="33.3" cy="800.3" r="1.2"/><circle cx="33.6" cy="794.7" r="1.2"/><circle cx="33.9" cy="789.9" r="1.2"/><circle cx="34.2" cy="785.6" r="1.2"/><circle cx="34.4" cy="782.0" r="1.2"/><circle cx="34.7" cy="778.8" r="1.2"/><circle cx="35.0" cy="776.0" r="1.2"/><circle cx="35.3" cy="773.5" r="1.2"/><circle cx="35.6" cy="771.4" r="1.2"/><circle cx="35.8" cy="769.6" r="1.2"/></g><g fill="#0000ff"><circle cx="32.2" cy="832.4" r="1.2"/><circle cx="32.5" cy="821.1" r="1.2"/><circle cx="32.8" cy="811.6" r="1.2"/><circle cx="33.0" cy="803.7" r="1.2"/><circle cx="33.3" cy="797.0" r="1.2"/><circle cx="33.6" cy="791.4" r="1.2"/><circle cx="33.9" cy="786.6" r="1.2"/><circle cx="34.2" cy="782.7" r="1.2"/><circle cx="34.4" cy="779.3" r="1.2"/><circle cx="34.7" cy="776.5" r="1.2"/><circle cx="35.0" cy="774.2" r="1.2"/><circle cx="35.3" cy="772.2" r="1.2"/><circle cx="35.6" cy="770.6" r="1.2"/><circle cx="35.8" cy="769.2" r="1.2"/></g><g fill="#00ff00"><circle cx="32.2" cy="832.4" r="1.2"/><circle cx="32.5" cy="818.9" r="1.2"/><circle cx="32.8" cy="808.1" r="1.2"/><circle cx="33.0" cy="799.5" r="1.2"/><circle cx="33.3" cy="792.6" r="1.2"/><circle cx="33.6" cy="787.1" r="1.2"/><circle cx="33.9" cy="782.7" r="1.2"/><circle cx="34.2" cy="779.2" r="1.2"/><circle cx="34.4" cy="776.3" r="1.2"/><circle cx="34.7" cy="774.1" r="1.2"/><circle cx="35.0" cy="772.3" r="1.2"/><circle cx="35.3" cy="770.8" r="1.2"/><circle cx="35.6" cy="769.7" r="1.2"/><circle cx="35.8" cy="768.7" r="1.2"/></g><path d="M36.1 768.0 L36.9 763.2 L37.8 758.8 L38.6 754.8 L39.4 751.1 L40.2 747.8 L41.1 744.7 L41.9 741.8 L42.7 739.0 L43.6 736.5 L44.4 734.1 L45.2 731.8 L46.0 729.7 L46.9 727.6 L47.7 725.7 L48.5 723.9 L49.4 722.1 L50.2 720.4 L51.0 718.8 L51.8 717.3 L52.7 715.8 L53.5 714.4 L54.3 713.0 L55.2 711.7 L56.0 710.4 L56.8 709.1 L57.6 707.9 L58.5 706.8 L59.3 705.7 L60.1 704.6 L65.7 698.1 L71.3 692.6 L76.9 687.9 L82.5 683.8 L88.0 680.1 L93.6 676.8 L99.2 673.7 L104.8 671.0 L110.4 668.4 L116.0 666.0 L121.5 663.8 L127.1 661.7 L132.7 659.7 L138.3 657.8 L143.9 656.1 L149.5 654.4 L155.0 652.8 L160.6 651.2 L166.2 649.8 L171.8 648.4 L177.4 647.0 L183.0 645.7 L188.6 644.5 L194.1 643.3 L199.7 642.1 L205.3 641.0 L210.9 639.9 L216.5 638.8 L222.1 637.8 L227.6 636.8 L233.2 635.9 L238.8 634.9 L244.4 634.0 L250.0 633.2 L255.6 632.3 L261.1 631.5 L266.7 630.7 L272.3 629.9 L277.9 629.1 L283.5 628.3 L289.1 627.6 L294.6 626.9 L300.2 626.2 L305.8 625.5 L311.4 624.8" fill="none" stroke="#ff0000" stroke-width="2.4" stroke-linejoin="round" stroke-linecap="round"/><path d="M36.1 768.0 L36.9 763.8 L37.8 760.1 L38.6 756.9 L39.4 753.9 L40.2 751.3 L41.1 748.9 L41.9 746.6 L42.7 744.5 L43.6 742.6 L44.4 740.8 L45.2 739.1 L46.0 737.5 L46.9 736.1 L47.7 734.6 L48.5 733.3 L49.4 732.0 L50.2 730.8 L51.0 729.6 L51.8 728.5 L52.7 727.5 L53.5 726.5 L54.3 725.5 L55.2 724.5 L56.0 723.6 L56.8 722.8 L57.6 721.9 L58.5 721.1 L59.3 720.3 L60.1 719.5 L65.7 714.9 L71.3 711.1 L76.9 707.8 L82.5 705.0 L88.0 702.5 L93.6 700.3 L99.2 698.3 L104.8 696.5 L110.4 694.9 L116.0 693.4 L121.5 692.0 L127.1 690.7 L132.7 689.5 L138.3 688.4 L143.9 687.3 L149.5 686.3 L155.0 685.3 L160.6 684.4 L166.2 683.5 L171.8 682.7 L177.4 681.9 L183.0 681.1 L188.6 680.3 L194.1 679.6 L199.7 678.9 L205.3 678.2 L210.9 677.6 L216.5 677.0 L222.1 676.4 L227.6 675.8 L233.2 675.3 L238.8 674.7 L244.4 674.2 L250.0 673.7 L255.6 673.3 L261.1 672.8 L266.7 672.4 L272.3 671.9 L277.9 671.5 L283.5 671.1 L289.1 670.8 L294.6 670.4 L300.2 670.0 L305.8 669.7 L311.4 669.4" fill="none" stroke="#000000" stroke-width="2.4" stroke-linejoin="round" stroke-linecap="round"/><path d="M36.1 768.0 L36.9 764.7 L37.8 761.8 L38.6 759.2 L39.4 757.0 L40.2 755.0 L41.1 753.1 L41.9 751.5 L42.7 750.0 L43.6 748.6 L44.4 747.3 L45.2 746.1 L46.0 744.9 L46.9 743.9 L47.7 742.9 L48.5 742.0 L49.4 741.1 L50.2 740.3 L51.0 739.5 L51.8 738.7 L52.7 738.0 L53.5 737.3 L54.3 736.7 L55.2 736.1 L56.0 735.5 L56.8 734.9 L57.6 734.4 L58.5 733.8 L59.3 733.3 L60.1 732.8 L65.7 730.0 L71.3 727.6 L76.9 725.7 L82.5 724.0 L88.0 722.5 L93.6 721.3 L99.2 720.1 L104.8 719.1 L110.4 718.2 L116.0 717.3 L121.5 716.6 L127.1 715.9 L132.7 715.2 L138.3 714.6 L143.9 714.0 L149.5 713.5 L155.0 713.0 L160.6 712.5 L166.2 712.0 L171.8 711.6 L177.4 711.2 L183.0 710.8 L188.6 710.5 L194.1 710.1 L199.7 709.8 L205.3 709.4 L210.9 709.1 L216.5 708.8 L222.1 708.6 L227.6 708.3 L233.2 708.0 L238.8 707.8 L244.4 707.5 L250.0 707.3 L255.6 707.0 L261.1 706.8 L266.7 706.6 L272.3 706.4 L277.9 706.2 L283.5 706.0 L289.1 705.8 L294.6 705.6 L300.2 705.4 L305.8 705.2 L311.4 705.0" fill="none" stroke="#0000ff" stroke-width="2.4" stroke-linejoin="round" stroke-linecap="round"/><path d="M36.1 768.0 L36.9 765.6 L37.8 763.5 L38.6 761.7 L39.4 760.1 L40.2 758.7 L41.1 757.4 L41.9 756.3 L42.7 755.3 L43.6 754.3 L44.4 753.5 L45.2 752.7 L46.0 751.9 L46.9 751.3 L47.7 750.6 L48.5 750.0 L49.4 749.5 L50.2 749.0 L51.0 748.5 L51.8 748.0 L52.7 747.6 L53.5 747.2 L54.3 746.8 L55.2 746.4 L56.0 746.1 L56.8 745.7 L57.6 745.4 L58.5 745.1 L59.3 744.8 L60.1 744.5 L65.7 742.9 L71.3 741.6 L76.9 740.6 L82.5 739.8 L88.0 739.1 L93.6 738.5 L99.2 738.0 L104.8 737.6 L110.4 737.2 L116.0 736.9 L121.5 736.6 L127.1 736.3 L132.7 736.1 L138.3 735.8 L143.9 735.6 L149.5 735.5 L155.0 735.3 L160.6 735.2 L166.2 735.0 L171.8 734.9 L177.4 734.8 L183.0 734.7 L188.6 734.6 L194.1 734.5 L199.7 734.4 L205.3 734.3 L210.9 734.2 L216.5 734.2 L222.1 734.1 L227.6 734.0 L233.2 734.0 L238.8 733.9 L244.4 733.9 L250.0 733.8 L255.6 733.8 L261.1 733.7 L266.7 733.7 L272.3 733.6 L277.9 733.6 L283.5 733.6 L289.1 733.5 L294.6 733.5 L300.2 733.5 L305.8 733.5 L311.4 733.4" fill="none" stroke="#00ff00" stroke-width="2.4" stroke-linejoin="round" stroke-linecap="round"/></g><rect x="32.2" y="611.9" width="279.2" height="220.5" fill="none" stroke="#4a4a4a" stroke-width="0.7"/><path d="M32.2 832.4v-2.8M32.2 611.9v2.8M60.1 832.4v-2.8M60.1 611.9v2.8M88.0 832.4v-2.8M88.0 611.9v2.8M116.0 832.4v-2.8M116.0 611.9v2.8M143.9 832.4v-2.8M143.9 611.9v2.8M171.8 832.4v-2.8M171.8 611.9v2.8M199.7 832.4v-2.8M199.7 611.9v2.8M227.6 832.4v-2.8M227.6 611.9v2.8M255.6 832.4v-2.8M255.6 611.9v2.8M283.5 832.4v-2.8M283.5 611.9v2.8M311.4 832.4v-2.8M311.4 611.9v2.8M32.2 832.4h2.8M311.4 832.4h-2.8M32.2 795.6h2.8M311.4 795.6h-2.8M32.2 758.9h2.8M311.4 758.9h-2.8M32.2 722.1h2.8M311.4 722.1h-2.8M32.2 685.4h2.8M311.4 685.4h-2.8M32.2 648.6h2.8M311.4 648.6h-2.8M32.2 611.9h2.8M311.4 611.9h-2.8" stroke="#4a4a4a" stroke-width="0.7" fill="none"/><g font-size="8.6" fill="#262626"><text x="32.2" y="845.3" text-anchor="middle">0</text><text x="60.1" y="845.3" text-anchor="middle">10</text><text x="88.0" y="845.3" text-anchor="middle">20</text><text x="116.0" y="845.3" text-anchor="middle">30</text><text x="143.9" y="845.3" text-anchor="middle">40</text><text x="171.8" y="845.3" text-anchor="middle">50</text><text x="199.7" y="845.3" text-anchor="middle">60</text><text x="227.6" y="845.3" text-anchor="middle">70</text><text x="255.6" y="845.3" text-anchor="middle">80</text><text x="283.5" y="845.3" text-anchor="middle">90</text><text x="311.4" y="845.3" text-anchor="middle">100</text><text x="28.4" y="836.1" text-anchor="end">0.1</text><text x="28.4" y="799.4" text-anchor="end">0.12</text><text x="28.4" y="762.6" text-anchor="end">0.14</text><text x="28.4" y="725.9" text-anchor="end">0.16</text><text x="28.4" y="689.1" text-anchor="end">0.18</text><text x="28.4" y="652.4" text-anchor="end">0.2</text><text x="28.4" y="615.6" text-anchor="end">0.22</text></g><text x="171.8" y="607.2" text-anchor="middle" font-weight="bold" font-size="9.3" fill="#000">Proposed Method</text><text x="171.8" y="857.8" text-anchor="middle" font-size="9.3" fill="#262626">t</text><text transform="translate(7.0 722.1) rotate(-90)" text-anchor="middle" font-size="9.3" fill="#262626">M(t)</text><rect x="246.2" y="618.8" width="58.3" height="44.1" fill="#fff" stroke="#4a4a4a" stroke-width="0.7"/><circle cx="261.9" cy="625.4" r="0.9" fill="#ff0000"/><text x="276.8" y="628.3" font-size="7.74" fill="#000">ϕ=1.0</text><circle cx="261.9" cy="636.0" r="0.9" fill="#000000"/><text x="276.8" y="638.9" font-size="7.74" fill="#000">ϕ=0.95</text><circle cx="261.9" cy="646.6" r="0.9" fill="#0000ff"/><text x="276.8" y="649.5" font-size="7.74" fill="#000">ϕ=0.90</text><circle cx="261.9" cy="657.2" r="0.9" fill="#00ff00"/><text x="276.8" y="660.1" font-size="7.74" fill="#000">ϕ=0.85</text><clipPath id="clipf"><rect x="397.5" y="610.4" width="282.3" height="223.5"/></clipPath><g clip-path="url(#clipf)"><g fill="#ff0000"><circle cx="399.0" cy="832.5" r="1.2"/><circle cx="399.3" cy="825.2" r="1.2"/><circle cx="399.6" cy="818.6" r="1.2"/><circle cx="399.8" cy="812.6" r="1.2"/><circle cx="400.1" cy="807.3" r="1.2"/><circle cx="400.4" cy="802.5" r="1.2"/><circle cx="400.7" cy="798.2" r="1.2"/><circle cx="401.0" cy="794.3" r="1.2"/><circle cx="401.2" cy="790.8" r="1.2"/><circle cx="401.5" cy="787.6" r="1.2"/><circle cx="401.8" cy="784.8" r="1.2"/><circle cx="402.1" cy="782.2" r="1.2"/><circle cx="402.4" cy="779.9" r="1.2"/><circle cx="402.6" cy="777.9" r="1.2"/></g><g fill="#000000"><circle cx="399.0" cy="832.5" r="1.2"/><circle cx="399.3" cy="823.9" r="1.2"/><circle cx="399.6" cy="816.5" r="1.2"/><circle cx="399.8" cy="810.0" r="1.2"/><circle cx="400.1" cy="804.4" r="1.2"/><circle cx="400.4" cy="799.5" r="1.2"/><circle cx="400.7" cy="795.2" r="1.2"/><circle cx="401.0" cy="791.5" r="1.2"/><circle cx="401.2" cy="788.2" r="1.2"/><circle cx="401.5" cy="785.4" r="1.2"/><circle cx="401.8" cy="783.0" r="1.2"/><circle cx="402.1" cy="780.9" r="1.2"/><circle cx="402.4" cy="779.0" r="1.2"/><circle cx="402.6" cy="777.4" r="1.2"/></g><g fill="#0000ff"><circle cx="399.0" cy="832.5" r="1.2"/><circle cx="399.3" cy="822.6" r="1.2"/><circle cx="399.6" cy="814.3" r="1.2"/><circle cx="399.8" cy="807.3" r="1.2"/><circle cx="400.1" cy="801.4" r="1.2"/><circle cx="400.4" cy="796.5" r="1.2"/><circle cx="400.7" cy="792.4" r="1.2"/><circle cx="401.0" cy="788.9" r="1.2"/><circle cx="401.2" cy="786.0" r="1.2"/><circle cx="401.5" cy="783.5" r="1.2"/><circle cx="401.8" cy="781.4" r="1.2"/><circle cx="402.1" cy="779.7" r="1.2"/><circle cx="402.4" cy="778.2" r="1.2"/><circle cx="402.6" cy="777.0" r="1.2"/></g><g fill="#00ff00"><circle cx="399.0" cy="832.5" r="1.2"/><circle cx="399.3" cy="820.7" r="1.2"/><circle cx="399.6" cy="811.2" r="1.2"/><circle cx="399.8" cy="803.7" r="1.2"/><circle cx="400.1" cy="797.6" r="1.2"/><circle cx="400.4" cy="792.8" r="1.2"/><circle cx="400.7" cy="788.9" r="1.2"/><circle cx="401.0" cy="785.8" r="1.2"/><circle cx="401.2" cy="783.3" r="1.2"/><circle cx="401.5" cy="781.3" r="1.2"/><circle cx="401.8" cy="779.7" r="1.2"/><circle cx="402.1" cy="778.5" r="1.2"/><circle cx="402.4" cy="777.5" r="1.2"/><circle cx="402.6" cy="776.6" r="1.2"/></g><path d="M402.9 776.0 L403.7 769.9 L404.6 765.5 L405.4 761.9 L406.2 758.6 L407.1 755.6 L407.9 752.7 L408.7 750.0 L409.5 747.5 L410.4 745.2 L411.2 743.0 L412.0 740.9 L412.8 738.9 L413.7 737.0 L414.5 735.2 L415.3 733.5 L416.2 731.9 L417.0 730.3 L417.8 728.8 L418.6 727.4 L419.5 726.0 L420.3 724.7 L421.1 723.4 L422.0 722.2 L422.8 721.0 L423.6 719.8 L424.4 718.7 L425.3 717.7 L426.1 716.6 L426.9 715.6 L432.5 709.5 L438.1 704.4 L443.7 700.0 L449.3 696.2 L454.9 692.7 L460.4 689.6 L466.0 686.8 L471.6 684.2 L477.2 681.8 L482.8 679.6 L488.4 677.5 L494.0 675.6 L499.5 673.7 L505.1 672.0 L510.7 670.3 L516.3 668.8 L521.9 667.3 L527.5 665.8 L533.1 664.5 L538.6 663.1 L544.2 661.9 L549.8 660.7 L555.4 659.5 L561.0 658.3 L566.6 657.3 L572.2 656.2 L577.8 655.2 L583.3 654.2 L588.9 653.2 L594.5 652.2 L600.1 651.3 L605.7 650.4 L611.3 649.6 L616.9 648.7 L622.4 647.9 L628.0 647.1 L633.6 646.3 L639.2 645.5 L644.8 644.8 L650.4 644.0 L656.0 643.3 L661.5 642.6 L667.1 641.9 L672.7 641.2 L678.3 640.5" fill="none" stroke="#ff0000" stroke-width="2.4" stroke-linejoin="round" stroke-linecap="round"/><path d="M402.9 776.0 L403.7 771.8 L404.6 768.0 L405.4 764.8 L406.2 761.8 L407.1 759.2 L407.9 756.8 L408.7 754.6 L409.5 752.6 L410.4 750.7 L411.2 749.0 L412.0 747.4 L412.8 745.9 L413.7 744.4 L414.5 743.1 L415.3 741.9 L416.2 740.7 L417.0 739.5 L417.8 738.4 L418.6 737.4 L419.5 736.4 L420.3 735.5 L421.1 734.5 L422.0 733.7 L422.8 732.8 L423.6 732.0 L424.4 731.2 L425.3 730.4 L426.1 729.7 L426.9 729.0 L432.5 724.7 L438.1 721.2 L443.7 718.2 L449.3 715.7 L454.9 713.5 L460.4 711.5 L466.0 709.8 L471.6 708.1 L477.2 706.6 L482.8 705.3 L488.4 703.9 L494.0 702.7 L499.5 701.5 L505.1 700.4 L510.7 699.3 L516.3 698.3 L521.9 697.4 L527.5 696.4 L533.1 695.6 L538.6 694.7 L544.2 693.9 L549.8 693.2 L555.4 692.5 L561.0 691.8 L566.6 691.1 L572.2 690.5 L577.8 689.9 L583.3 689.3 L588.9 688.8 L594.5 688.2 L600.1 687.7 L605.7 687.3 L611.3 686.8 L616.9 686.4 L622.4 686.0 L628.0 685.6 L633.6 685.2 L639.2 684.9 L644.8 684.5 L650.4 684.2 L656.0 683.9 L661.5 683.6 L667.1 683.3 L672.7 683.0 L678.3 682.8" fill="none" stroke="#000000" stroke-width="2.4" stroke-linejoin="round" stroke-linecap="round"/><path d="M402.9 776.0 L403.7 772.3 L404.6 769.2 L405.4 766.5 L406.2 764.2 L407.1 762.1 L407.9 760.3 L408.7 758.6 L409.5 757.1 L410.4 755.7 L411.2 754.5 L412.0 753.3 L412.8 752.3 L413.7 751.3 L414.5 750.3 L415.3 749.5 L416.2 748.7 L417.0 747.9 L417.8 747.2 L418.6 746.5 L419.5 745.8 L420.3 745.2 L421.1 744.6 L422.0 744.1 L422.8 743.5 L423.6 743.0 L424.4 742.5 L425.3 742.1 L426.1 741.6 L426.9 741.2 L432.5 738.6 L438.1 736.5 L443.7 734.7 L449.3 733.2 L454.9 731.9 L460.4 730.8 L466.0 729.8 L471.6 728.8 L477.2 728.0 L482.8 727.3 L488.4 726.6 L494.0 725.9 L499.5 725.3 L505.1 724.7 L510.7 724.2 L516.3 723.7 L521.9 723.2 L527.5 722.8 L533.1 722.4 L538.6 722.0 L544.2 721.6 L549.8 721.2 L555.4 720.9 L561.0 720.6 L566.6 720.2 L572.2 719.9 L577.8 719.6 L583.3 719.3 L588.9 719.1 L594.5 718.8 L600.1 718.5 L605.7 718.3 L611.3 718.0 L616.9 717.8 L622.4 717.6 L628.0 717.4 L633.6 717.1 L639.2 716.9 L644.8 716.7 L650.4 716.5 L656.0 716.3 L661.5 716.1 L667.1 716.0 L672.7 715.8 L678.3 715.6" fill="none" stroke="#0000ff" stroke-width="2.4" stroke-linejoin="round" stroke-linecap="round"/><path d="M402.9 776.0 L403.7 773.2 L404.6 770.9 L405.4 768.9 L406.2 767.2 L407.1 765.7 L407.9 764.4 L408.7 763.2 L409.5 762.1 L410.4 761.1 L411.2 760.3 L412.0 759.5 L412.8 758.8 L413.7 758.1 L414.5 757.5 L415.3 756.9 L416.2 756.4 L417.0 755.9 L417.8 755.4 L418.6 755.0 L419.5 754.6 L420.3 754.2 L421.1 753.8 L422.0 753.5 L422.8 753.1 L423.6 752.8 L424.4 752.6 L425.3 752.3 L426.1 752.0 L426.9 751.8 L432.5 750.4 L438.1 749.3 L443.7 748.5 L449.3 747.8 L454.9 747.2 L460.4 746.7 L466.0 746.3 L471.6 746.0 L477.2 745.7 L482.8 745.4 L488.4 745.2 L494.0 745.0 L499.5 744.8 L505.1 744.6 L510.7 744.4 L516.3 744.3 L521.9 744.1 L527.5 744.0 L533.1 743.9 L538.6 743.7 L544.2 743.6 L549.8 743.5 L555.4 743.4 L561.0 743.3 L566.6 743.2 L572.2 743.1 L577.8 743.1 L583.3 743.0 L588.9 742.9 L594.5 742.8 L600.1 742.7 L605.7 742.7 L611.3 742.6 L616.9 742.5 L622.4 742.5 L628.0 742.4 L633.6 742.3 L639.2 742.3 L644.8 742.2 L650.4 742.1 L656.0 742.1 L661.5 742.0 L667.1 742.0 L672.7 741.9 L678.3 741.9" fill="none" stroke="#00ff00" stroke-width="2.4" stroke-linejoin="round" stroke-linecap="round"/></g><rect x="399.0" y="611.9" width="279.3" height="220.5" fill="none" stroke="#4a4a4a" stroke-width="0.7"/><path d="M399.0 832.4v-2.8M399.0 611.9v2.8M426.9 832.4v-2.8M426.9 611.9v2.8M454.9 832.4v-2.8M454.9 611.9v2.8M482.8 832.4v-2.8M482.8 611.9v2.8M510.7 832.4v-2.8M510.7 611.9v2.8M538.6 832.4v-2.8M538.6 611.9v2.8M566.6 832.4v-2.8M566.6 611.9v2.8M594.5 832.4v-2.8M594.5 611.9v2.8M622.4 832.4v-2.8M622.4 611.9v2.8M650.4 832.4v-2.8M650.4 611.9v2.8M678.3 832.4v-2.8M678.3 611.9v2.8M399.0 832.4h2.8M678.3 832.4h-2.8M399.0 800.9h2.8M678.3 800.9h-2.8M399.0 769.4h2.8M678.3 769.4h-2.8M399.0 737.9h2.8M678.3 737.9h-2.8M399.0 706.4h2.8M678.3 706.4h-2.8M399.0 674.9h2.8M678.3 674.9h-2.8M399.0 643.4h2.8M678.3 643.4h-2.8M399.0 611.9h2.8M678.3 611.9h-2.8" stroke="#4a4a4a" stroke-width="0.7" fill="none"/><g font-size="8.6" fill="#262626"><text x="399.0" y="845.3" text-anchor="middle">0</text><text x="426.9" y="845.3" text-anchor="middle">10</text><text x="454.9" y="845.3" text-anchor="middle">20</text><text x="482.8" y="845.3" text-anchor="middle">30</text><text x="510.7" y="845.3" text-anchor="middle">40</text><text x="538.6" y="845.3" text-anchor="middle">50</text><text x="566.6" y="845.3" text-anchor="middle">60</text><text x="594.5" y="845.3" text-anchor="middle">70</text><text x="622.4" y="845.3" text-anchor="middle">80</text><text x="650.4" y="845.3" text-anchor="middle">90</text><text x="678.3" y="845.3" text-anchor="middle">100</text><text x="395.2" y="836.1" text-anchor="end">0</text><text x="395.2" y="804.6" text-anchor="end">0.5</text><text x="395.2" y="773.1" text-anchor="end">1</text><text x="395.2" y="741.6" text-anchor="end">1.5</text><text x="395.2" y="710.1" text-anchor="end">2</text><text x="395.2" y="678.6" text-anchor="end">2.5</text><text x="395.2" y="647.1" text-anchor="end">3</text><text x="395.2" y="615.6" text-anchor="end">3.5</text></g><g fill="#262626"><text x="399.0" y="610.9" font-size="10">×</text><text x="406.1" y="610.0" font-size="8.6">10</text><text x="415.9" y="605.8" font-size="6.6">5</text></g><text x="538.6" y="607.2" text-anchor="middle" font-weight="bold" font-size="9.3" fill="#000">Proposed Method</text><text x="538.6" y="857.8" text-anchor="middle" font-size="9.3" fill="#262626">t</text><text transform="translate(378.2 722.1) rotate(-90)" text-anchor="middle" font-size="9.3" fill="#262626">I(t)</text><rect x="613.1" y="618.8" width="58.3" height="44.1" fill="#fff" stroke="#4a4a4a" stroke-width="0.7"/><circle cx="628.8" cy="625.4" r="0.9" fill="#ff0000"/><text x="643.7" y="628.3" font-size="7.74" fill="#000">ϕ=1.0</text><circle cx="628.8" cy="636.0" r="0.9" fill="#000000"/><text x="643.7" y="638.9" font-size="7.74" fill="#000">ϕ=0.95</text><circle cx="628.8" cy="646.6" r="0.9" fill="#0000ff"/><text x="643.7" y="649.5" font-size="7.74" fill="#000">ϕ=0.90</text><circle cx="628.8" cy="657.2" r="0.9" fill="#00ff00"/><text x="643.7" y="660.1" font-size="7.74" fill="#000">ϕ=0.85</text><text x="97.1" y="284.7" textLength="135.7" lengthAdjust="spacingAndGlyphs" font-family="Liberation Serif" font-size="15.8" fill="#000" stroke="#000" stroke-width="0.22">(a) Tumour cells <tspan font-style="italic">T</tspan>(<tspan font-style="italic">t</tspan>)</text><text x="476.8" y="285.2" textLength="110.3" lengthAdjust="spacingAndGlyphs" font-family="Liberation Serif" font-size="15.8" fill="#000" stroke="#000" stroke-width="0.22">(b) NK cells <tspan font-style="italic">N</tspan>(<tspan font-style="italic">t</tspan>)</text><text x="103.6" y="585.0" textLength="122.2" lengthAdjust="spacingAndGlyphs" font-family="Liberation Serif" font-size="15.8" fill="#000" stroke="#000" stroke-width="0.22">(c) CD8+T cell <tspan font-style="italic">L</tspan>(<tspan font-style="italic">t</tspan>)</text><text x="424.5" y="585.2" textLength="214.2" lengthAdjust="spacingAndGlyphs" font-family="Liberation Serif" font-size="15.8" fill="#000" stroke="#000" stroke-width="0.22">(d) Circulating lymphocytes <tspan font-style="italic">C</tspan>(<tspan font-style="italic">t</tspan>)</text><text x="70.6" y="880.5" textLength="188.8" lengthAdjust="spacingAndGlyphs" font-family="Liberation Serif" font-size="15.8" fill="#000" stroke="#000" stroke-width="0.22">(e) Chemotherapy drug <tspan font-style="italic">M</tspan>(<tspan font-style="italic">t</tspan>)</text><text x="437.9" y="880.7" textLength="187.7" lengthAdjust="spacingAndGlyphs" font-family="Liberation Serif" font-size="15.8" fill="#000" stroke="#000" stroke-width="0.22">(f) Immunotherapy drug <tspan font-style="italic">I</tspan>(<tspan font-style="italic">t</tspan>)</text></svg></body></html>
